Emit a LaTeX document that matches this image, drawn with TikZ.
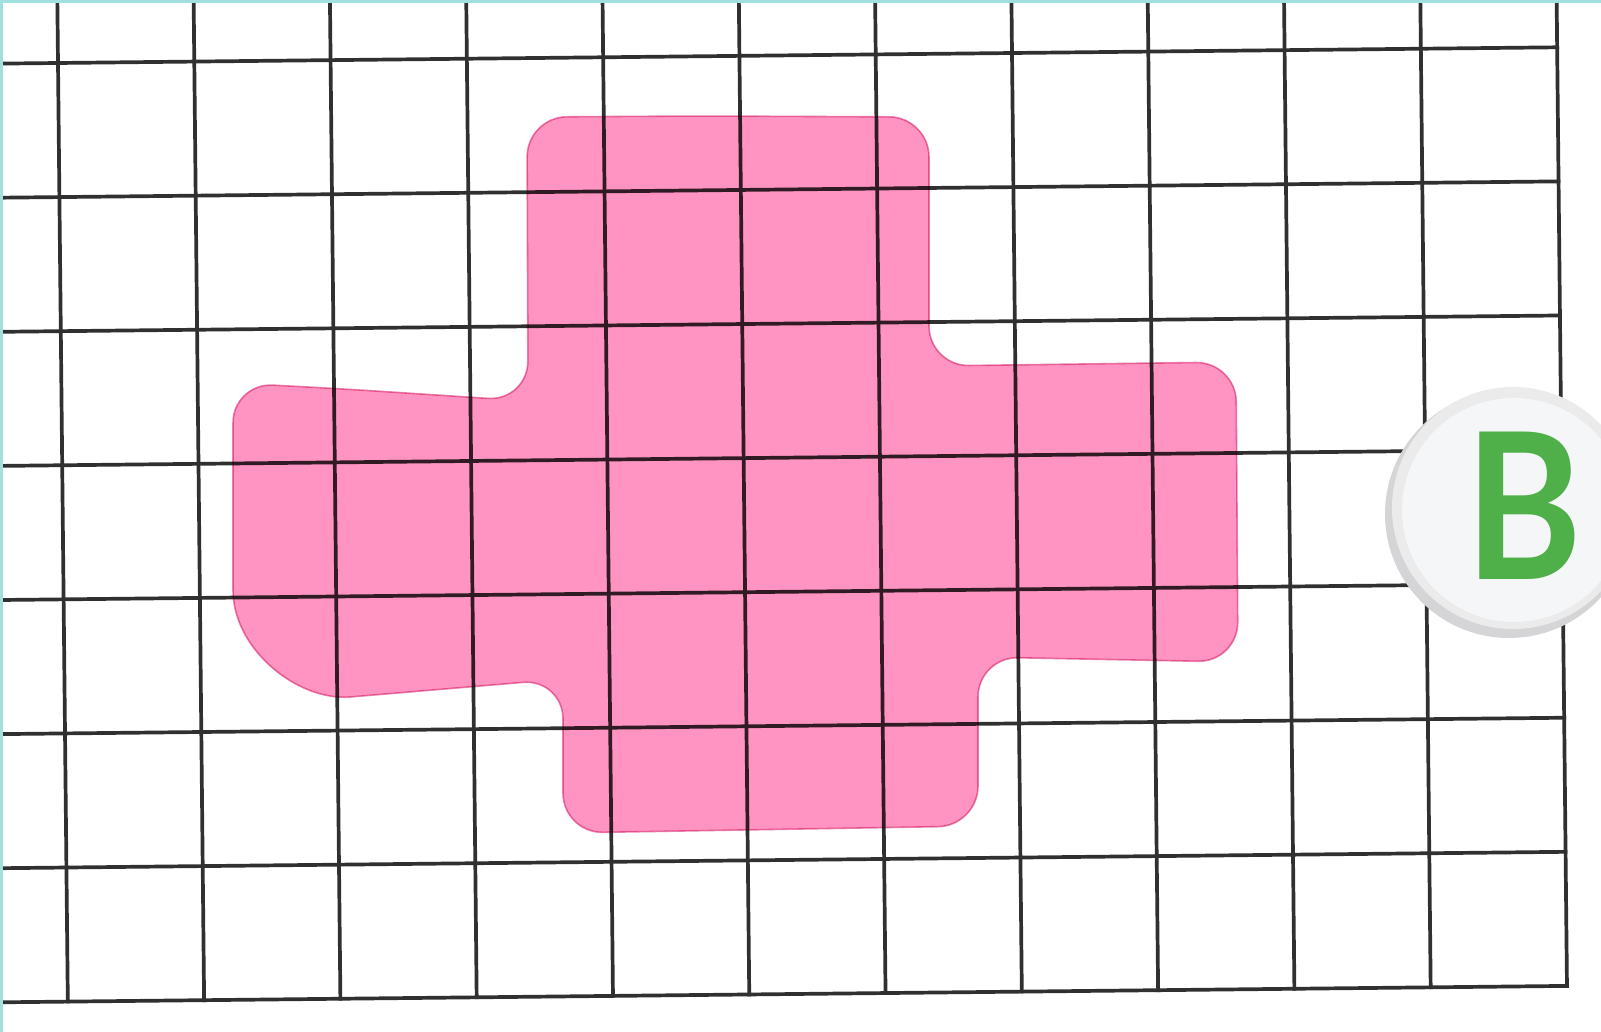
\documentclass[tikz,border=0pt]{standalone}
\usepackage{fontspec}
\newfontfamily\badgefont{Lato}
\definecolor{GridInk}{HTML}{303030}
\definecolor{BlobPink}{HTML}{FF93C2}
\definecolor{BlobEdge}{HTML}{E884B0}
\definecolor{FrameTeal}{HTML}{A0E0E0}
\definecolor{BadgeShade}{HTML}{D5D5D7}
\definecolor{BadgeRing}{HTML}{EBEBEC}
\definecolor{BadgeFace}{HTML}{F5F6F8}
\definecolor{BadgeGreen}{HTML}{4FB04A}
\tikzset{
  gridline/.style={draw=GridInk,line width=1.85pt,line cap=rect},
  blobfill/.style={
    fill=BlobPink,
    draw=BlobEdge,
    line width=0.8pt,
    blend mode=multiply,
    rounded corners=20pt
  },
  badgedisc/.style={circle,inner sep=0pt,draw=none,minimum size=#1},
  badgeletter/.style={
    inner sep=0pt,
    transform shape,
    xscale=0.87,
    text=BadgeGreen,
    font=\badgefont\bfseries\fontsize{102}{102}\selectfont
  },
  framebar/.style={fill=FrameTeal}
}

\begin{document}
\begin{tikzpicture}[x=0.5pt,y=-0.5pt]
  \useasboundingbox (0,0) rectangle (1601,1032);
  \fill[white] (0,0) rectangle (1601,1032);
  \begin{scope}
    \clip (0,0) rectangle (1601,1032);
    \begin{scope}[shift={(58,63)},rotate=0.6]
      \foreach \k in {0,...,11}
        \draw[gridline] (136.3*\k,-120) -- (136.3*\k,938.7);
      \foreach \j in {0,...,7}
        \draw[gridline] (-120,134.1*\j) -- (1499.3,134.1*\j);
    \end{scope}
  \end{scope}
  \path[blobfill] (700,116) -- (929,117) -- (929,366) -- (1236,362)
    -- (1238,662) -- (978,657) -- (978,826) -- (563,833) -- (563,679)
    [rounded corners=0pt] -- (350,697) .. controls (297,701) and (233,649) .. (233,590)
    [rounded corners=20pt] -- (233,383) -- (345,389) -- (528,401)
    -- (527,117) -- cycle;
  \node[badgedisc=124pt,fill=BadgeShade] (badgeshade) at (1509,514) {};
  \node[badgedisc=121pt,fill=BadgeRing] (badgering) at (1513,508) {};
  \node[badgedisc=112pt,fill=BadgeFace] (badgeface) at (1514,510) {};
  \node[badgeletter] (badgeB) at (1524,506) {B};
  \fill[framebar] (0,0) rectangle (1601,3);
  \fill[framebar] (0,0) rectangle (3,1032);
\end{tikzpicture}
\end{document}
